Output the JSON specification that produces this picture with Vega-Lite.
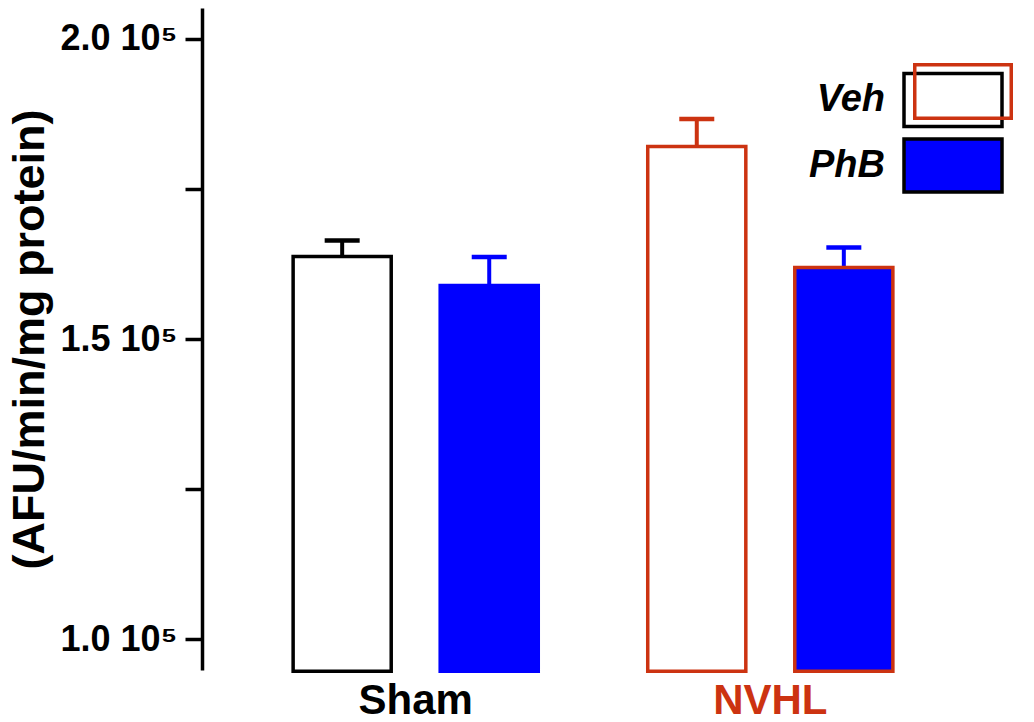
{
  "$schema": "https://vega.github.io/schema/vega-lite/v6.json",
  "autosize": "none",
  "width": 782,
  "height": 662,
  "padding": {"left": 202, "top": 8, "right": 50, "bottom": 52},
  "background": "white",
  "config": {"view": {"stroke": null}, "font": "Liberation Sans"},
  "data": {
    "values": [
      {"group": "Sham", "treatment": "Veh", "cond": "Sham Veh", "mean": 163750, "upper": 166420},
      {"group": "Sham", "treatment": "PhB", "cond": "Sham PhB", "mean": 158920, "upper": 163670},
      {"group": "NVHL", "treatment": "Veh", "cond": "NVHL Veh", "mean": 182070, "upper": 186650},
      {"group": "NVHL", "treatment": "PhB", "cond": "NVHL PhB", "mean": 161920, "upper": 165250}
    ]
  },
  "encoding": {
    "x": {
      "field": "group", "type": "nominal", "sort": ["Sham", "NVHL"],
      "scale": {"paddingInner": 0.3087, "paddingOuter": 0.257},
      "axis": {
        "title": null, "domain": false, "ticks": false, "tickSize": 0, "labelPadding": 10,
        "labelAngle": 0, "labelFont": "Liberation Sans", "labelFontSize": 42, "labelFontWeight": "bold",
        "labelColor": {"condition": {"test": "datum.value === 'NVHL'", "value": "#cc3311"}, "value": "black"}
      }
    },
    "xOffset": {
      "field": "treatment", "type": "nominal", "sort": ["Veh", "PhB"],
      "scale": {"paddingInner": 0.333, "paddingOuter": 0}
    }
  },
  "layer": [
    {
      "mark": {"type": "rule", "strokeWidth": 4},
      "encoding": {
        "y": {"field": "mean", "type": "quantitative"},
        "y2": {"field": "upper"},
        "color": {
          "field": "cond", "type": "nominal",
          "scale": {"domain": ["Sham Veh", "Sham PhB", "NVHL Veh", "NVHL PhB"], "range": ["black", "#0000ff", "#cc3311", "#0000ff"]},
          "legend": {
            "values": ["NVHL Veh"], "zindex": 2,
            "orient": "none", "legendX": 734, "legendY": 56.5, "title": null, "padding": 0,
            "symbolType": "M-1.93,-1.07H1.93V1.07H-1.93Z", "symbolSize": 2500, "symbolStrokeWidth": 3.5,
            "symbolFillColor": "transparent", "symbolStrokeColor": "#cc3311", "symbolOpacity": 1,
            "labelExpr": "''"
          }
        }
      }
    },
    {
      "mark": {"type": "tick", "filled": false, "size": 31, "thickness": 0.5, "strokeWidth": 4, "opacity": 1},
      "encoding": {
        "y": {"field": "upper", "type": "quantitative"},
        "color": {"field": "cond", "type": "nominal", "legend": null}
      }
    },
    {
      "mark": {"type": "bar", "strokeWidth": 3.5, "opacity": 1, "fillOpacity": 1},
      "encoding": {
        "y": {
          "field": "mean", "type": "quantitative",
          "scale": {"domain": [94900, 205150], "nice": false, "zero": false},
          "axis": {
            "values": [100000, 125000, 150000, 175000, 200000],
            "labelExpr": "datum.value % 50000 === 0 ? format(datum.value / 100000, '.1f') + ' 10⁵' : ''",
            "grid": false,
            "domainColor": "black", "domainWidth": 3.5,
            "tickColor": "black", "tickWidth": 3.5, "tickSize": 17,
            "labelPadding": 8, "labelFont": "Liberation Sans", "labelFontSize": 36, "labelFontWeight": "bold", "labelColor": "black",
            "title": "(AFU/min/mg protein)", "titleFont": "Liberation Sans", "titleFontSize": 45, "titleFontWeight": "bold",
            "titleColor": "black", "titlePadding": 8
          }
        },
        "y2": {"datum": 94680},
        "fill": {
          "field": "treatment", "type": "nominal",
          "scale": {"domain": ["Veh", "PhB"], "range": ["white", "#0000ff"]},
          "legend": {
            "orient": "none", "legendX": 724, "legendY": 65, "title": null, "padding": 0, "zindex": 1,
            "symbolType": "M-1.96,-1.06H1.96V1.06H-1.96Z", "symbolSize": 2500, "symbolStrokeWidth": 3.5,
            "symbolStrokeColor": "black",
            "rowPadding": -2.5,
            "labelFont": "Liberation Sans", "labelFontSize": 38, "labelFontWeight": "bold", "labelFontStyle": "italic",
            "labelColor": "black", "labelAlign": "right", "labelBaseline": "middle", "labelOffset": -95, "labelLimit": 0
          }
        },
        "stroke": {
          "field": "cond", "type": "nominal",
          "scale": {"domain": ["Sham Veh", "Sham PhB", "NVHL Veh", "NVHL PhB"], "range": ["black", "#0000ff", "#cc3311", "#cc3311"]},
          "legend": null
        }
      }
    }
  ]
}
